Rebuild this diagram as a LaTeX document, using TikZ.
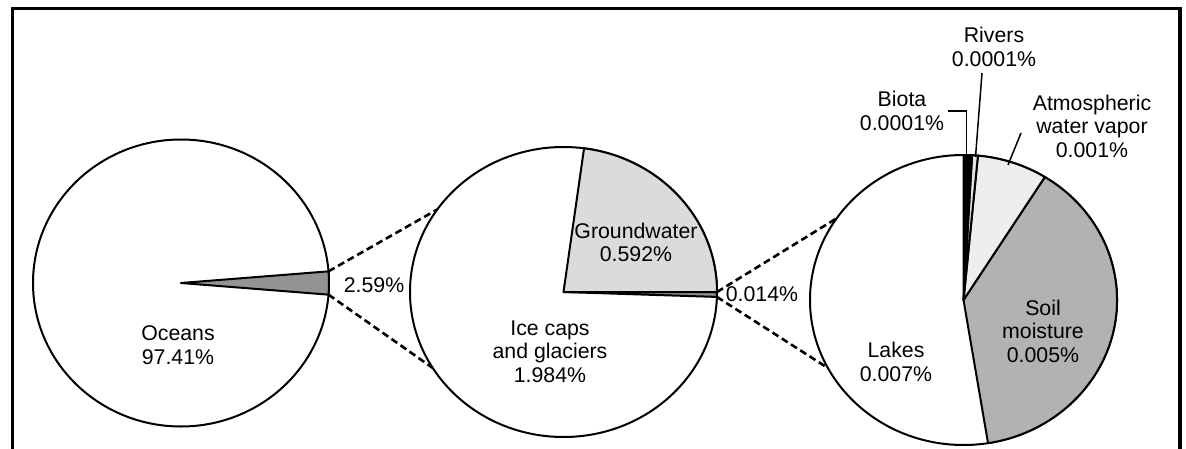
\documentclass[tikz,border=0pt]{standalone}
\usepackage{fontspec}
\setmainfont{Liberation Sans}
\begin{document}
\begin{tikzpicture}[x=1pt,y=1pt,
    pie/.style={line width=2pt,line join=round},
    zoomline/.style={line width=2.6pt,dash pattern=on 7pt off 4pt},
    leader/.style={line width=1.5pt},
    lbl/.style={align=center,font=\fontsize{21.3}{23.5}\selectfont,inner sep=0pt}]
\useasboundingbox (0,0) rectangle (1186,448);
% frame
\draw[line width=3.5pt] (12.5,-5) -- (12.5,439.5) -- (1180,439.5) -- (1180,-5);

% all water
\coordinate (c1) at (181,165);
\draw[pie] (c1) ellipse[x radius=148,y radius=143.5];
\draw[pie,fill=gray!85] (c1) -- ++(-4.66:148 and 143.5) arc[start angle=-4.66,end angle=4.66,x radius=148,y radius=143.5] -- cycle;
\path (c1) ++(4.66:148 and 143.5) coordinate (oup);
\path (c1) ++(-4.66:148 and 143.5) coordinate (odown);
\node[lbl] (oceans) at (178,103) {Oceans\\97.41\%};
\node[lbl] (pctfresh) at (374,163) {2.59\%};

% fresh water
\coordinate (c2) at (563.5,156);
\draw[pie] (c2) ellipse[x radius=153.5,y radius=145];
\draw[pie,fill=gray!28] (c2) -- ++(0:153.5 and 145) arc[start angle=0,end angle=82.3,x radius=153.5,y radius=145] -- cycle;
\draw[pie,fill=gray!90] (c2) -- ++(-1.95:153.5 and 145) arc[start angle=-1.95,end angle=0,x radius=153.5,y radius=145] -- cycle;
\path (c2) ++(145.3:153.5 and 145) coordinate (iup);
\path (c2) ++(211.6:153.5 and 145) coordinate (idown);
\path (c2) ++(0:153.5 and 145) coordinate (fup);
\path (c2) ++(-1.95:153.5 and 145) coordinate (fdown);
\node[lbl] (groundwater) at (636,205.5) {Groundwater\\0.592\%};
\node[lbl] (icecaps) at (550,96.5) {Ice caps\\and glaciers\\1.984\%};
\node[lbl] (pctsurface) at (762,154) {0.014\%};

% surface and other water
\coordinate (c3) at (963.5,148);
\draw[pie] (c3) ellipse[x radius=153.5,y radius=145];
\draw[pie,fill=gray!60] (c3) -- ++(-80.8:153.5 and 145) arc[start angle=-80.8,end angle=58,x radius=153.5,y radius=145] -- cycle;
\draw[pie,fill=gray!13] (c3) -- ++(58:153.5 and 145) arc[start angle=58,end angle=84.6,x radius=153.5,y radius=145] -- cycle;
\draw[pie,fill=gray!20] (c3) -- ++(84.6:153.5 and 145) arc[start angle=84.6,end angle=86.8,x radius=153.5,y radius=145] -- cycle;
\draw[pie,fill=black] (c3) -- ++(86.8:153.5 and 145) arc[start angle=86.8,end angle=90,x radius=153.5,y radius=145] -- cycle;
\path (c3) ++(145.7:153.5 and 145) coordinate (lup);
\path (c3) ++(208:153.5 and 145) coordinate (ldown);
\node[lbl] (lakes) at (896,86) {Lakes\\0.007\%};
\node[lbl] (soil) at (1043,117) {Soil\\moisture\\0.005\%};
\node[lbl] (atmos) at (1092,322) {Atmospheric\\water vapor\\0.001\%};
\node[lbl] (rivers) at (994,401) {Rivers\\0.0001\%};
\node[lbl] (biota) at (902,337) {Biota\\0.0001\%};

% zoom lines
\draw[zoomline] (oup) -- (iup);
\draw[zoomline] (odown) -- (idown);
\draw[zoomline] (fup) -- (lup);
\draw[zoomline] (fdown) -- (ldown);

% leaders
\coordinate (rivtop) at (982,375);
\coordinate (rivend) at (975.5,291);
\draw[leader] (rivtop) -- (rivend);
\coordinate (biotaend) at (966.5,290);
\draw[leader] ([xshift=4pt]biota.east) -| (biotaend);
\coordinate (atmostop) at (1021,315);
\coordinate (atmosend) at (1008,283);
\draw[leader] (atmostop) -- (atmosend);
\end{tikzpicture}
\end{document}
